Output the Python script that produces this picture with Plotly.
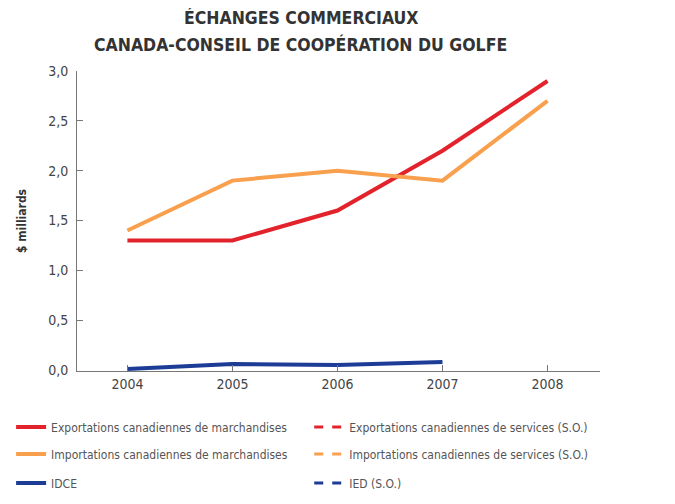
import plotly.graph_objects as go

years = [2004, 2005, 2006, 2007, 2008]
exports_merch = [1.3, 1.3, 1.6, 2.2, 2.9]
imports_merch = [1.4, 1.9, 2.0, 1.9, 2.7]
idce_years = [2004, 2005, 2006, 2007]
idce = [0.01, 0.06, 0.05, 0.08]
y_ticks = [0.0, 0.5, 1.0, 1.5, 2.0, 2.5, 3.0]
title_lines = ["ÉCHANGES COMMERCIAUX", "CANADA-CONSEIL DE COOPÉRATION DU GOLFE"]

RED = "#e3232c"
ORANGE = "#f9a04e"
BLUE = "#1d3c96"
FONT = "Liberation Sans Narrow, DejaVu Sans Condensed, Arial Narrow, sans-serif"

fig = go.Figure()
fig.add_trace(go.Scatter(x=years, y=exports_merch, mode="lines",
                         line=dict(color=RED, width=4),
                         name="Exportations canadiennes de marchandises", legend="legend"))
fig.add_trace(go.Scatter(x=[None], y=[None], mode="lines",
                         line=dict(color=RED, width=3, dash="dash"),
                         name="Exportations canadiennes de services (S.O.)", legend="legend2"))
fig.add_trace(go.Scatter(x=years, y=imports_merch, mode="lines",
                         line=dict(color=ORANGE, width=4),
                         name="Importations canadiennes de marchandises", legend="legend3"))
fig.add_trace(go.Scatter(x=[None], y=[None], mode="lines",
                         line=dict(color=ORANGE, width=3, dash="dash"),
                         name="Importations canadiennes de services (S.O.)", legend="legend4"))
fig.add_trace(go.Scatter(x=idce_years, y=idce, mode="lines",
                         line=dict(color=BLUE, width=4),
                         name="IDCE", legend="legend5"))
fig.add_trace(go.Scatter(x=[None], y=[None], mode="lines",
                         line=dict(color=BLUE, width=3, dash="dash"),
                         name="IED (S.O.)", legend="legend6"))

leg_common = dict(orientation="h", xanchor="left", yanchor="middle",
                  font=dict(family=FONT, size=12, color="#555555"),
                  bgcolor="rgba(0,0,0,0)", itemwidth=30)
LX, RX = -0.126, 0.444
R1, R2, R3 = -0.187, -0.277, -0.373

for text, ty in zip(title_lines, [1.177, 1.087]):
    fig.add_annotation(text="<b>" + text + "</b>", xref="paper", yref="paper",
                       x=0.428, y=ty, xanchor="center", yanchor="middle", showarrow=False,
                       font=dict(family=FONT, size=17.5, color="#333333"))

fig.update_layout(
    width=667, height=496, autosize=False, showlegend=True,
    paper_bgcolor="white", plot_bgcolor="white",
    margin=dict(l=69, r=75, t=63, b=133, autoexpand=False),
    separators=",.",
    xaxis=dict(range=[2003.52, 2008.5], tickvals=years, ticktext=[str(y) for y in years],
               showgrid=False, zeroline=False, showline=True, linecolor="#777777", linewidth=1,
               ticks="inside", ticklen=6, tickcolor="#777777",
               tickfont=dict(family=FONT, size=14, color="#444444")),
    yaxis=dict(range=[-0.01, 3.0], tickvals=y_ticks, tickformat=".1f",
               showgrid=False, zeroline=False, showline=True, linecolor="#777777", linewidth=1,
               ticks="inside", ticklen=6, tickcolor="#777777", ticklabelstandoff=5,
               tickfont=dict(family=FONT, size=14, color="#444444"),
               title=dict(text="<b>$ milliards</b>", standoff=18,
                          font=dict(family=FONT, size=12, color="#333333"))),
    legend=dict(x=LX, y=R1, **leg_common),
    legend2=dict(x=RX, y=R1, **leg_common),
    legend3=dict(x=LX, y=R2, **leg_common),
    legend4=dict(x=RX, y=R2, **leg_common),
    legend5=dict(x=LX, y=R3, **leg_common),
    legend6=dict(x=RX, y=R3, **leg_common),
)

fig.write_html("out.html")
